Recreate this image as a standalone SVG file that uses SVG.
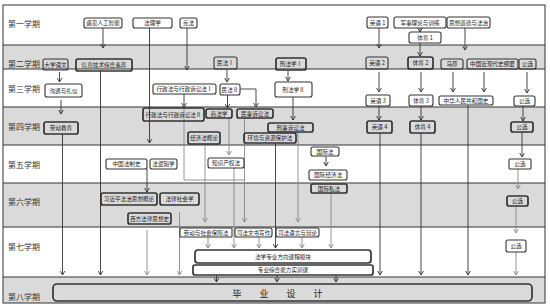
<svg xmlns="http://www.w3.org/2000/svg" width="550" height="307" viewBox="0 0 550 307">
<style>
.bg{fill:#dadada}
.row{stroke:#333;stroke-width:1}
.bx{fill:none;stroke:#333;stroke-width:1.1}
.bk{stroke-width:1.7}
.t{font-family:"Noto Sans CJK SC","Noto Sans CJK JP",sans-serif;font-size:5.6px;fill:#222;text-anchor:middle;dominant-baseline:central}
.rl{font-family:"Noto Sans CJK SC","Noto Sans CJK JP",sans-serif;font-size:8px;fill:#333;dominant-baseline:central}
.c{fill:none;stroke:#333;stroke-width:0.9;marker-end:url(#a)}
.g{stroke:#888;marker-end:url(#ag)}
.n{marker-end:none}
</style>
<defs>
<marker id="a" viewBox="0 0 5 6" refX="4.5" refY="3" markerWidth="5" markerHeight="6" orient="auto" markerUnits="userSpaceOnUse">
<path d="M0,0.3 L4.5,3 L0,5.7" fill="none" stroke="#333" stroke-width="0.9"/>
</marker>
<marker id="ag" viewBox="0 0 5 6" refX="4.5" refY="3" markerWidth="5" markerHeight="6" orient="auto" markerUnits="userSpaceOnUse">
<path d="M0,0.3 L4.5,3 L0,5.7" fill="none" stroke="#888" stroke-width="0.9"/>
</marker>
</defs>
<g id="background">
<rect x="3" y="5" width="542" height="298" fill="#fff"/>
<rect class="bg" x="3" y="45" width="542" height="24"/>
<rect class="bg" x="3" y="107" width="542" height="38"/>
<rect class="bg" x="3" y="183" width="542" height="44"/>
<rect class="bg" x="3" y="277" width="542" height="26"/>
<line class="row" x1="3" y1="45" x2="545" y2="45"/>
<line class="row" x1="3" y1="69" x2="545" y2="69"/>
<line class="row" x1="3" y1="107" x2="545" y2="107"/>
<line class="row" x1="3" y1="145" x2="545" y2="145"/>
<line class="row" x1="3" y1="183" x2="545" y2="183"/>
<line class="row" x1="3" y1="227" x2="545" y2="227"/>
<line class="row" x1="3" y1="277" x2="545" y2="277"/>
<rect x="3" y="5" width="542" height="298" fill="none" stroke="#333" stroke-width="1"/>
<text class="rl" x="8" y="23">第一学期</text>
<text class="rl" x="8" y="63">第二学期</text>
<text class="rl" x="8" y="88">第三学期</text>
<text class="rl" x="8" y="126">第四学期</text>
<text class="rl" x="8" y="164">第五学期</text>
<text class="rl" x="8" y="201">第六学期</text>
<text class="rl" x="8" y="246">第七学期</text>
<text class="rl" x="8" y="296">第八学期</text>
</g>
<g id="connectors">
<path class="c" d="M103,28 V48"/>
<path class="c" d="M149.5,28 V143"/>
<path class="c" d="M187,28 V70"/>
<path class="c" d="M379,28 V48"/>
<path class="c" d="M420,28 V32"/>
<path class="c" d="M420,43 V56"/>
<path class="c" d="M465,28 V50"/>
<path class="c" d="M59.5,72 V82"/>
<path class="c" d="M100.5,71 V275"/>
<path class="c" d="M227,70 V82"/>
<path class="c" d="M288,71 V81"/>
<path class="c" d="M379,72 V92"/>
<path class="c" d="M421,72 V92"/>
<path class="c" d="M453,72 V92"/>
<path class="c" d="M484,72 V92"/>
<path class="c" d="M527,72 V93"/>
<path class="c" d="M61,100 V114"/>
<path class="c" d="M62.5,134 V275"/>
<path class="c" d="M184,94 V107"/>
<path class="c g n" d="M184,107 V180 H244.5"/>
<path class="c" d="M227.5,95 V108"/>
<path class="c" d="M240,89 H256 V107"/>
<path class="c" d="M293,97 V120"/>
<path class="c" d="M379,106 V120"/>
<path class="c" d="M421,106 V120"/>
<path class="c" d="M468,105 V275"/>
<path class="c" d="M523,106 V121"/>
<path class="c" d="M380,133 V275"/>
<path class="c" d="M421,133 V275"/>
<path class="c" d="M522,132 V157"/>
<path class="c g" d="M229,118 V155"/>
<path class="c g" d="M244.5,118 V222"/>
<path class="c g" d="M205,144 V222"/>
<path class="c" d="M275.5,143 V248"/>
<path class="c g" d="M298,132 V222"/>
<path class="c" d="M326,157 V166"/>
<path class="c" d="M147,169 V192"/>
<path class="c g" d="M518,169 V189"/>
<path class="c g" d="M331,193 V248"/>
<path class="c g" d="M234,168 V248"/>
<path class="c g" d="M147,230 V275"/>
<path class="c g" d="M179.5,212 V275"/>
<path class="c g" d="M516,206 V233"/>
<path class="c g" d="M516,252 V275"/>
<path class="c g" d="M208,237 V248"/>
<path class="c g" d="M259,237 V248"/>
<path class="c g" d="M302,237 V248"/>
<path class="c" d="M216.5,275 V282"/>
<path class="c" d="M277,275 V282"/>
<path class="c" d="M336,275 V282"/>
</g>
<g id="n-yujian"><rect class="bx" x="84" y="18" width="38" height="10" rx="2"/><text class="t" x="103" y="23">遇见人工智能</text></g>
<g id="n-falixue"><rect class="bx" x="133" y="18" width="39" height="10" rx="2"/><text class="t" x="152.5" y="23">法理学</text></g>
<g id="n-xianfa"><rect class="bx" x="180" y="18" width="17" height="10" rx="2"/><text class="t" x="188.5" y="23">宪法</text></g>
<g id="n-yy1"><rect class="bx" x="367" y="17" width="21" height="11" rx="2"/><text class="t" x="377.5" y="22.5">英语 1</text></g>
<g id="n-junshi"><rect class="bx" x="394" y="17" width="52" height="11" rx="2"/><text class="t" x="420" y="22.5">军事理论与训练</text></g>
<g id="n-sixiang"><rect class="bx" x="447" y="17" width="43" height="11" rx="2"/><text class="t" x="468.5" y="22.5">思想道德与法治</text></g>
<g id="n-ty1"><rect class="bx" x="409" y="32" width="32" height="11" rx="2"/><text class="t" x="425" y="37.5">体育 1</text></g>
<g id="n-dxyw"><rect class="bx" x="43" y="59" width="25" height="11" rx="2"/><text class="t" x="55.5" y="64.5">大学语文</text></g>
<g id="n-xinxi"><rect class="bx bk" x="76" y="59" width="56" height="12" rx="2"/><text class="t" x="104" y="65">信息技术综合素养</text></g>
<g id="n-mf1"><rect class="bx" x="214" y="57" width="23" height="12" rx="2"/><text class="t" x="225.5" y="63">民法Ⅰ</text></g>
<g id="n-xf1"><rect class="bx bk" x="276" y="58" width="30" height="12" rx="2"/><text class="t" x="291" y="64">刑法学Ⅰ</text></g>
<g id="n-yy2"><rect class="bx" x="366" y="57" width="22" height="12" rx="2"/><text class="t" x="377" y="63">英语 2</text></g>
<g id="n-ty2"><rect class="bx bk" x="408" y="57" width="25" height="12" rx="2"/><text class="t" x="420.5" y="63">体育 2</text></g>
<g id="n-mayuan"><rect class="bx" x="441" y="59" width="22" height="10" rx="2"/><text class="t" x="452" y="64">马原</text></g>
<g id="n-jindai"><rect class="bx" x="467" y="59" width="51" height="10" rx="2"/><text class="t" x="492.5" y="64">中国近现代史纲要</text></g>
<g id="n-gx2"><rect class="bx" x="519" y="59" width="17" height="10" rx="2"/><text class="t" x="527.5" y="64">公选</text></g>
<g id="n-goutong"><rect class="bx" x="45" y="84" width="37" height="13" rx="2"/><text class="t" x="63.5" y="90.5">沟通与礼仪</text></g>
<g id="n-xz1"><rect class="bx" x="153" y="84" width="63" height="10" rx="2"/><text class="t" x="184.5" y="89">行政法与行政诉讼法Ⅰ</text></g>
<g id="n-mf2"><rect class="bx" x="220" y="84" width="20" height="11" rx="2"/><text class="t" x="230" y="89.5">民法Ⅱ</text></g>
<g id="n-xf2"><rect class="bx" x="275" y="82" width="37" height="15" rx="2"/><text class="t" x="293.5" y="89.5">刑法学Ⅱ</text></g>
<g id="n-yy3"><rect class="bx" x="366" y="95" width="24" height="11" rx="2"/><text class="t" x="378" y="100.5">英语 3</text></g>
<g id="n-ty3"><rect class="bx" x="409" y="95" width="24" height="11" rx="2"/><text class="t" x="421" y="100.5">体育 3</text></g>
<g id="n-guoshi"><rect class="bx" x="439" y="96" width="54" height="9" rx="2"/><text class="t" x="466" y="100.5">中华人民共和国史</text></g>
<g id="n-gx3"><rect class="bx" x="514" y="96" width="21" height="10" rx="2"/><text class="t" x="524.5" y="101">公选</text></g>
<g id="n-laodong"><rect class="bx bk" x="44" y="122" width="34" height="12" rx="2"/><text class="t" x="61" y="128">劳动教育</text></g>
<g id="n-xz2"><rect class="bx bk" x="143" y="108" width="61" height="13" rx="2"/><text class="t" x="173.5" y="114.5">行政法与行政诉讼法Ⅱ</text></g>
<g id="n-shangfa"><rect class="bx bk" x="206" y="109" width="26" height="9" rx="2"/><text class="t" x="219" y="113.5">商法学</text></g>
<g id="n-minsu"><rect class="bx bk" x="237" y="109" width="36" height="9" rx="2"/><text class="t" x="255" y="113.5">民事诉讼法</text></g>
<g id="n-xingsu"><rect class="bx bk" x="268" y="123" width="45" height="9" rx="2"/><text class="t" x="290.5" y="127.5">刑事诉讼法</text></g>
<g id="n-jingji"><rect class="bx bk" x="188" y="132" width="32" height="12" rx="2"/><text class="t" x="204" y="138">经济法概论</text></g>
<g id="n-huanjing"><rect class="bx bk" x="244" y="133" width="52" height="10" rx="2"/><text class="t" x="270" y="138">环境与资源保护法</text></g>
<g id="n-yy4"><rect class="bx bk" x="367" y="121" width="25" height="12" rx="2"/><text class="t" x="379.5" y="127">英语 4</text></g>
<g id="n-ty4"><rect class="bx bk" x="410" y="121" width="25" height="12" rx="2"/><text class="t" x="422.5" y="127">体育 4</text></g>
<g id="n-gx4"><rect class="bx bk" x="511" y="122" width="22" height="10" rx="2"/><text class="t" x="522" y="127">公选</text></g>
<g id="n-fazhishi"><rect class="bx" x="106" y="159" width="41" height="10" rx="2"/><text class="t" x="126.5" y="164">中国法制史</text></g>
<g id="n-luoji"><rect class="bx" x="150" y="159" width="27" height="10" rx="2"/><text class="t" x="163.5" y="164">法逻辑学</text></g>
<g id="n-zhichan"><rect class="bx" x="208" y="158" width="36" height="10" rx="2"/><text class="t" x="226" y="163">知识产权法</text></g>
<g id="n-guojifa"><rect class="bx" x="311" y="147" width="28" height="9" rx="2"/><text class="t" x="325" y="151.5">国际法</text></g>
<g id="n-guojijingji"><rect class="bx" x="309" y="170" width="38" height="10" rx="2"/><text class="t" x="328" y="175">国际经济法</text></g>
<g id="n-gx5"><rect class="bx" x="509" y="159" width="22" height="10" rx="1"/><text class="t" x="520" y="164">公选</text></g>
<g id="n-guojisifa"><rect class="bx bk" x="311" y="184" width="36" height="9" rx="2"/><text class="t" x="329" y="188.5">国际私法</text></g>
<g id="n-xjp"><rect class="bx bk" x="101" y="193" width="56" height="12" rx="2"/><text class="t" x="129" y="199">习近平法治思想概论</text></g>
<g id="n-shehui"><rect class="bx bk" x="160" y="193" width="39" height="12" rx="2"/><text class="t" x="179.5" y="199">法律社会学</text></g>
<g id="n-xifang"><rect class="bx bk" x="128" y="213" width="43" height="11" rx="2"/><text class="t" x="149.5" y="218.5">西方法律思想史</text></g>
<g id="n-gx6"><rect class="bx bk" x="507" y="196" width="21" height="10" rx="2"/><text class="t" x="517.5" y="201">公选</text></g>
<g id="n-laobao"><rect class="bx" x="180" y="228" width="52" height="9" rx="1"/><text class="t" x="206" y="232.5">劳动与社会保障法</text></g>
<g id="n-wenshu"><rect class="bx" x="235" y="228" width="37" height="9" rx="2"/><text class="t" x="253.5" y="232.5">司法文书写作</text></g>
<g id="n-yuyan"><rect class="bx" x="276" y="228" width="43" height="9" rx="2"/><text class="t" x="297.5" y="232.5">司法语言与辩论</text></g>
<g id="n-fangxiang"><rect class="bx bk" x="195" y="250" width="176" height="13" rx="3"/><text class="t" x="283" y="256.5">法学专业方向课程模块</text></g>
<g id="n-shixun"><rect class="bx bk" x="193" y="265" width="180" height="10" rx="2"/><text class="t" x="283" y="270">专业综合能力实训课</text></g>
<g id="n-gx7"><rect class="bx" x="506" y="240" width="20" height="12" rx="2"/><text class="t" x="516" y="246">公选</text></g>
<g id="n-biye"><rect class="bx bk" x="53" y="284" width="479" height="17" rx="4"/><text class="t" x="232.5" y="293" style="font-size:9px;text-anchor:start;letter-spacing:18px">毕业设计</text></g>
</svg>
